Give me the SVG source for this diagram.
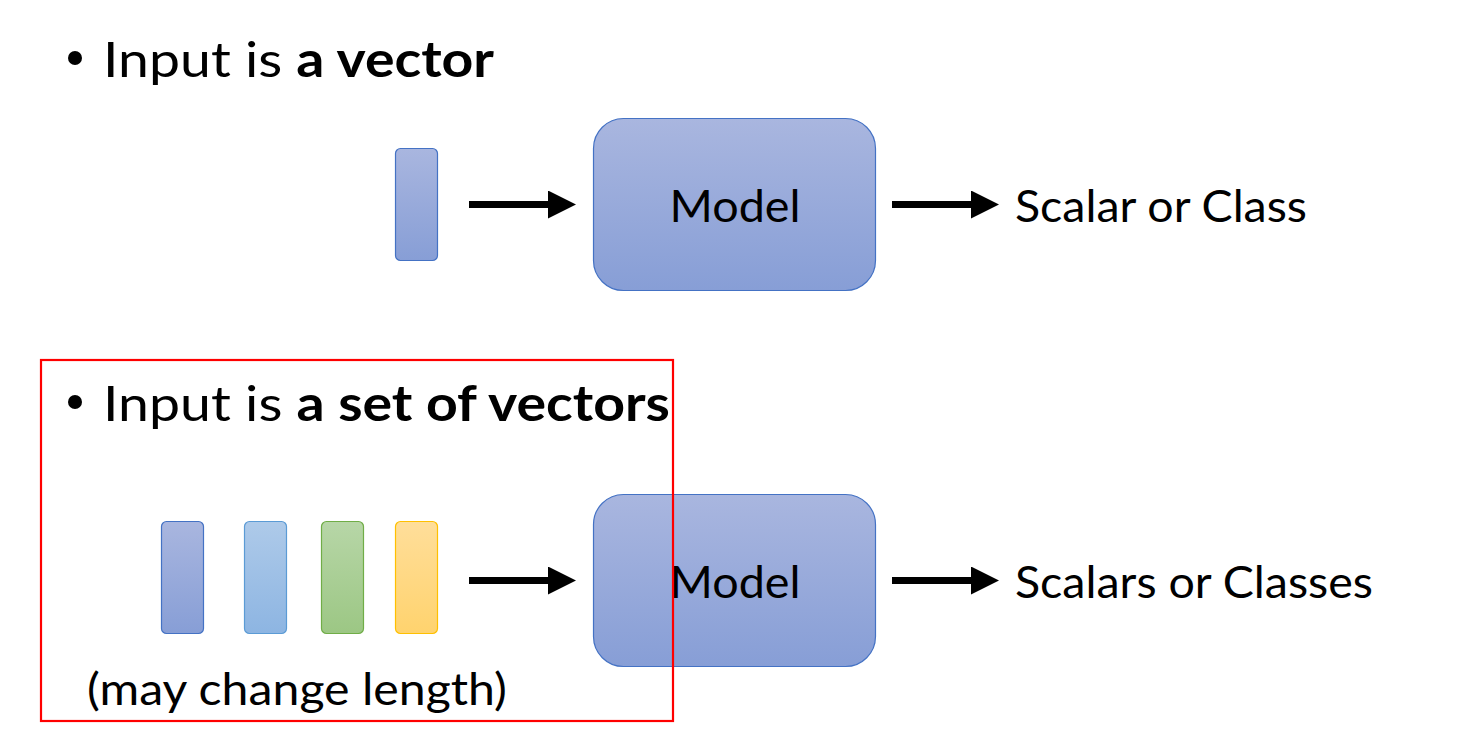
<svg xmlns="http://www.w3.org/2000/svg" width="1465" height="756" viewBox="0 0 1465 756">
<defs>
<linearGradient id="gBlue" x1="0" y1="0" x2="0" y2="1"><stop offset="0" stop-color="#A9B6DF"/><stop offset="1" stop-color="#879ED6"/></linearGradient>
<linearGradient id="gLBlue" x1="0" y1="0" x2="0" y2="1"><stop offset="0" stop-color="#AECAE9"/><stop offset="1" stop-color="#8DB5E2"/></linearGradient>
<linearGradient id="gGreen" x1="0" y1="0" x2="0" y2="1"><stop offset="0" stop-color="#B7D6A7"/><stop offset="1" stop-color="#9CC784"/></linearGradient>
<linearGradient id="gYellow" x1="0" y1="0" x2="0" y2="1"><stop offset="0" stop-color="#FFDE9A"/><stop offset="1" stop-color="#FFD36E"/></linearGradient>
<marker id="ah" markerWidth="4" markerHeight="4" refX="0" refY="2" orient="auto" markerUnits="strokeWidth" viewBox="0 0 4 4"><path d="M0,0 L4,2 L0,4 Z" fill="#000"/></marker>
</defs>
<style>
text{font-family:Lato,"Open Sans","Liberation Sans",sans-serif;fill:#000}
.big{font-size:49px}
.mid{font-size:45px}
.b{font-weight:bold}
.vec{stroke-width:1.2}
.model{fill:url(#gBlue);stroke:#4472C4;stroke-width:1.2}
.conn{stroke:#000;stroke-width:7;fill:none;marker-end:url(#ah)}
</style>
<rect width="1465" height="756" fill="#fff"/>
<g id="heading1">
<circle cx="75" cy="58" r="7" fill="#000"/>
<text class="big" x="103" y="77" textLength="391" lengthAdjust="spacingAndGlyphs">Input is <tspan class="b">a vector</tspan></text>
</g>
<g id="vector1"><rect class="vec" x="395.5" y="148.5" width="42" height="112" rx="5" fill="url(#gBlue)" stroke="#4472C4"/></g>
<g id="model1">
<rect class="model" x="593.5" y="118.5" width="282" height="172" rx="30"/>
<text class="mid" x="735" y="222" text-anchor="middle" textLength="131" lengthAdjust="spacingAndGlyphs">Model</text>
</g>
<g id="output1"><text class="mid" x="1015" y="222" textLength="292" lengthAdjust="spacingAndGlyphs">Scalar or Class</text></g>
<g id="heading2">
<circle cx="75" cy="402" r="7" fill="#000"/>
<text class="big" x="103" y="421" textLength="567" lengthAdjust="spacingAndGlyphs">Input is <tspan class="b">a set of vectors</tspan></text>
</g>
<g id="vectors2">
<rect class="vec" x="161.5" y="521.5" width="42" height="112" rx="5" fill="url(#gBlue)" stroke="#4472C4"/>
<rect class="vec" x="244.5" y="521.5" width="42" height="112" rx="5" fill="url(#gLBlue)" stroke="#5B9BD5"/>
<rect class="vec" x="321.5" y="521.5" width="42" height="112" rx="5" fill="url(#gGreen)" stroke="#70AD47"/>
<rect class="vec" x="395.5" y="521.5" width="42" height="112" rx="5" fill="url(#gYellow)" stroke="#FFC000"/>
</g>
<g id="caption2"><text class="mid" x="87" y="705" textLength="420" lengthAdjust="spacingAndGlyphs">(may change length)</text></g>
<g id="model2">
<rect class="model" x="593.5" y="494.5" width="282" height="172" rx="30"/>
<text class="mid" x="735" y="598" text-anchor="middle" textLength="131" lengthAdjust="spacingAndGlyphs">Model</text>
</g>
<g id="output2"><text class="mid" x="1015" y="598" textLength="358" lengthAdjust="spacingAndGlyphs">Scalars or Classes</text></g>
<g id="connectors">
<line class="conn" x1="469" y1="204.5" x2="548" y2="204.5"/>
<line class="conn" x1="892" y1="204.5" x2="971" y2="204.5"/>
<line class="conn" x1="469" y1="580.5" x2="548" y2="580.5"/>
<line class="conn" x1="892" y1="580.5" x2="971" y2="580.5"/>
</g>
<g id="highlight"><rect x="41" y="360" width="632" height="361" fill="none" stroke="#FF0000" stroke-width="2.2"/></g>
</svg>
